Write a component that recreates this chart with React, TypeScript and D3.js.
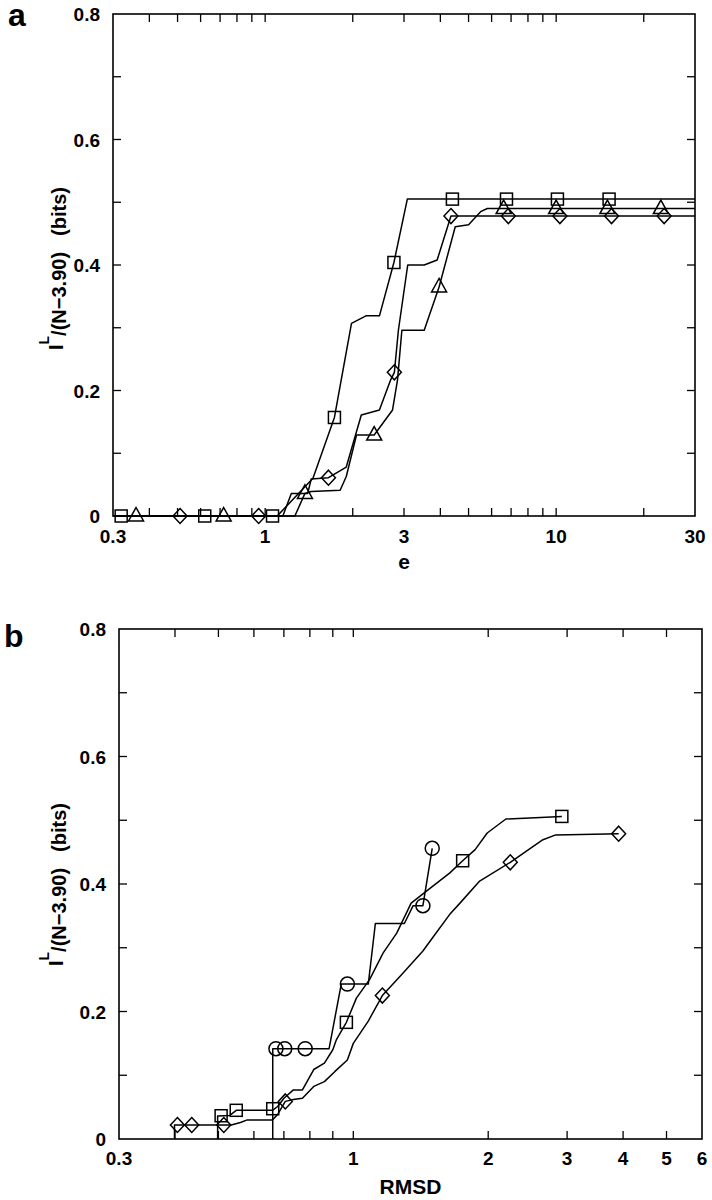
import React from "react";
import * as d3 from "d3";

type Pt = [number, number];

// ---------- Panel a data (x = e, y = I^L/(N-3.90) bits) ----------
const aSquareLine: Pt[] = [[0.3,0],[1.1,0],[1.46,0.06],[1.73,0.157],[1.98,0.307],[2.22,0.319],[2.47,0.319],[2.77,0.404],[3.08,0.505],[30,0.505]];
const aSquareMarks: Pt[] = [[0.32,0],[0.62,0],[1.06,0],[1.73,0.157],[2.77,0.404],[4.4,0.505],[6.75,0.505],[10.1,0.505],[15.2,0.505]];
const aDiamondLine: Pt[] = [[0.3,0],[1.15,0],[1.23,0.036],[1.4,0.036],[1.44,0.059],[1.65,0.061],[1.9,0.078],[2.14,0.161],[2.47,0.169],[2.7,0.217],[2.78,0.229],[2.87,0.296],[3.09,0.4],[3.52,0.4],[3.9,0.408],[4.35,0.478],[30,0.478]];
const aDiamondMarks: Pt[] = [[0.51,0],[0.95,0],[1.65,0.061],[2.78,0.229],[4.35,0.478],[6.85,0.478],[10.3,0.478],[15.5,0.478],[23.5,0.478]];
const aTriangleLine: Pt[] = [[0.3,0],[1.265,0],[1.37,0.036],[1.44,0.039],[1.81,0.041],[1.9,0.063],[2.06,0.129],[2.37,0.129],[2.74,0.169],[2.85,0.217],[2.95,0.296],[3.52,0.296],[3.96,0.365],[4.5,0.461],[5.0,0.464],[5.5,0.485],[5.8,0.49],[30,0.49]];
const aTriangleMarks: Pt[] = [[0.36,0],[0.72,0],[1.37,0.036],[2.37,0.129],[3.96,0.365],[6.6,0.49],[10,0.49],[15,0.49],[22.9,0.49]];

// ---------- Panel b data (x = RMSD) ----------
const bCircleLine: Pt[] = [[0.661,0],[0.661,0.1417],[0.883,0.1417],[0.94,0.243],[1.08,0.243],[1.12,0.338],[1.3,0.338],[1.36,0.366],[1.43,0.366],[1.5,0.456]];
const bCircleMarks: Pt[] = [[0.672,0.1417],[0.703,0.1417],[0.781,0.1417],[0.97,0.243],[1.43,0.366],[1.5,0.456]];
const bSquareLine: Pt[] = [[0.498,0],[0.498,0.036],[0.53,0.037],[0.548,0.045],[0.66,0.045],[0.678,0.051],[0.7,0.064],[0.735,0.077],[0.77,0.077],[0.816,0.109],[0.862,0.119],[0.9,0.14],[0.917,0.156],[0.965,0.183],[1.016,0.221],[1.087,0.25],[1.166,0.292],[1.25,0.323],[1.346,0.37],[1.5,0.396],[1.64,0.417],[1.754,0.4365],[1.87,0.454],[1.99,0.48],[2.19,0.502],[2.92,0.506]];
const bSquareMarks: Pt[] = [[0.507,0.0365],[0.548,0.045],[0.661,0.0475],[0.965,0.183],[1.754,0.4365],[2.92,0.506]];
const bDiamondLine: Pt[] = [[0.399,0],[0.399,0.022],[0.534,0.022],[0.56,0.026],[0.58,0.03],[0.66,0.03],[0.677,0.038],[0.705,0.059],[0.735,0.062],[0.77,0.064],[0.816,0.0825],[0.862,0.09],[0.91,0.106],[0.97,0.124],[1.0,0.15],[1.08,0.185],[1.161,0.225],[1.29,0.26],[1.43,0.295],[1.5,0.315],[1.64,0.352],[1.73,0.37],[1.91,0.404],[2.24,0.434],[2.65,0.4695],[2.83,0.477],[3.91,0.479]];
const bDiamondMarks: Pt[] = [[0.405,0.022],[0.436,0.022],[0.514,0.022],[0.705,0.059],[1.161,0.225],[2.24,0.434],[3.91,0.479]];

// ---------- Ticks ----------
const aXDomain: [number, number] = [0.3, 30];
const aXTicks = [0.4,0.5,0.6,0.7,0.8,0.9,1,2,3,4,5,6,7,8,9,10,20];
const aXLabels = [0.3,1,3,10,30];
const bXDomain: [number, number] = [0.3, 6];
const bXTicks = [0.4,0.5,0.6,0.7,0.8,0.9,1,2,3,4,5];
const bXLabels = [0.3,1,2,3,4,5,6];
const yDomain: [number, number] = [0, 0.8];
const yTicks = [0.1,0.2,0.3,0.4,0.5,0.6,0.7];
const yLabels = [0,0.2,0.4,0.6,0.8];

const FONT = "'Liberation Sans', Arial, Helvetica, sans-serif";

type Series = { line: Pt[]; marks: Pt[]; shape: "square" | "diamond" | "triangle" | "circle" };

function Marker({ x, y, shape }: { x: number; y: number; shape: string }) {
  const common = { fill: "none", stroke: "#000", strokeWidth: 1.5 };
  if (shape === "square") return <rect x={x - 6} y={y - 6} width={12} height={12} {...common} />;
  if (shape === "diamond") return <path d={`M${x},${y - 7.5}L${x + 7},${y}L${x},${y + 7.5}L${x - 7},${y}Z`} {...common} />;
  if (shape === "triangle") return <path d={`M${x},${y - 8.5}L${x + 7.5},${y + 5}L${x - 7.5},${y + 5}Z`} {...common} />;
  return <circle cx={x} cy={y} r={7} {...common} />;
}

function Panel(props: {
  id: string; left: number; right: number; top: number; bottom: number;
  xDomain: [number, number]; xTicks: number[]; xLabels: number[];
  series: Series[]; label: string; labelX: number; labelY: number;
  xTitle: string; xTitleY: number; yTitleBase: number; xLabelDy: number;
}) {
  const { id, left, right, top, bottom } = props;
  const x = d3.scaleLog().domain(props.xDomain).range([left, right]);
  const y = d3.scaleLinear().domain(yDomain).range([bottom, top]);
  const line = d3.line<Pt>().x(d => x(d[0])).y(d => y(d[1]));
  const tl = 8;
  const fmtY = (v: number) => (v === 0 ? "0" : v.toFixed(1));
  return (
    <g>
      <defs>
        <clipPath id={`clip-${id}`}>
          <rect x={left} y={top - 10} width={right - left} height={bottom - top + 20} />
        </clipPath>
      </defs>
      {props.xTicks.map(t => (
        <g key={`xt${t}`}>
          <line x1={x(t)} x2={x(t)} y1={bottom} y2={bottom - tl} stroke="#000" strokeWidth={1.3} />
          <line x1={x(t)} x2={x(t)} y1={top} y2={top + tl} stroke="#000" strokeWidth={1.3} />
        </g>
      ))}
      {yTicks.map(t => (
        <g key={`yt${t}`}>
          <line x1={left} x2={left + tl} y1={y(t)} y2={y(t)} stroke="#000" strokeWidth={1.3} />
          <line x1={right} x2={right - tl} y1={y(t)} y2={y(t)} stroke="#000" strokeWidth={1.3} />
        </g>
      ))}
      <rect x={left} y={top} width={right - left} height={bottom - top} fill="none" stroke="#000" strokeWidth={1.6} />
      <g clipPath={`url(#clip-${id})`}>
        {props.series.map((s, i) => (
          <path key={`l${i}`} d={line(s.line) || ""} fill="none" stroke="#000" strokeWidth={1.5} strokeLinejoin="round" />
        ))}
      </g>
      {props.series.map((s, i) =>
        s.marks.map((m, j) => <Marker key={`m${i}-${j}`} x={x(m[0])} y={y(m[1])} shape={s.shape} />)
      )}
      {props.xLabels.map(t => (
        <text key={`xl${t}`} x={x(t)} y={bottom + props.xLabelDy} textAnchor="middle" fontFamily={FONT} fontWeight="bold" fontSize={19}>{String(t)}</text>
      ))}
      {yLabels.map(t => (
        <text key={`yl${t}`} x={left - 13} y={y(t) + 7} textAnchor="end" fontFamily={FONT} fontWeight="bold" fontSize={19}>{fmtY(t)}</text>
      ))}
      <text x={(left + right) / 2} y={props.xTitleY} textAnchor="middle" fontFamily={FONT} fontWeight="bold" fontSize={21}>{props.xTitle}</text>
      <text transform={`translate(66,${props.yTitleBase}) rotate(-90)`} textAnchor="start" fontFamily={FONT} fontWeight="bold" fontSize={20}>
        <tspan dy={-3}>I</tspan>
        <tspan fontSize={14} dy={-14}>L</tspan>
        <tspan dy={17}>/(N−3.90)</tspan>
        <tspan dx={16}>(bits)</tspan>
      </text>
      <text x={props.labelX} y={props.labelY} fontFamily={FONT} fontWeight="bold" fontSize={32}>{props.label}</text>
    </g>
  );
}

export default function App() {
  const seriesA: Series[] = [
    { line: aSquareLine, marks: aSquareMarks, shape: "square" },
    { line: aDiamondLine, marks: aDiamondMarks, shape: "diamond" },
    { line: aTriangleLine, marks: aTriangleMarks, shape: "triangle" },
  ];
  const seriesB: Series[] = [
    { line: bCircleLine, marks: bCircleMarks, shape: "circle" },
    { line: bSquareLine, marks: bSquareMarks, shape: "square" },
    { line: bDiamondLine, marks: bDiamondMarks, shape: "diamond" },
  ];
  return (
    <svg width={712} height={1200} style={{ position: "absolute", left: 0, top: 0, background: "#fff" }}>
      <rect x={0} y={0} width={712} height={1200} fill="#fff" />
      <Panel id="a" left={113} right={695} top={14} bottom={516}
        xDomain={aXDomain} xTicks={aXTicks} xLabels={aXLabels} series={seriesA}
        label="a" labelX={8} labelY={26} xTitle="e" xTitleY={569} yTitleBase={350} xLabelDy={27} />
      <Panel id="b" left={119} right={702} top={629} bottom={1139}
        xDomain={bXDomain} xTicks={bXTicks} xLabels={bXLabels} series={seriesB}
        label="b" labelX={4} labelY={647} xTitle="RMSD" xTitleY={1194} yTitleBase={966} xLabelDy={26} />
    </svg>
  );
}
